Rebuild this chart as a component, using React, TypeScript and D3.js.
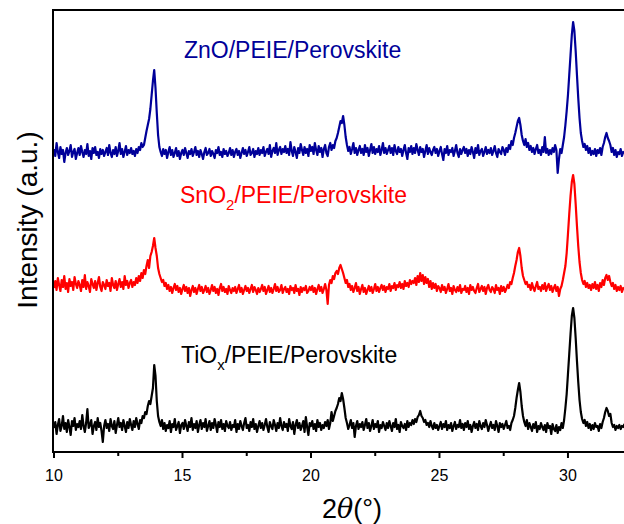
import React from "react";
import * as d3 from "d3";

const X_START = 10;
const X_STEP = 0.05;

const seriesNames = ["TiOx/PEIE/Perovskite", "SnO2/PEIE/Perovskite", "ZnO/PEIE/Perovskite"];
const seriesOffsets = [0, 138, 273];
const seriesColors = ["#000000", "#ff0000", "#000099"];

const tiox: number[] = [
  28, 34, 22, 31, 37, 25, 30, 40, 27, 33, 24, 36, 29, 21, 35, 30, 38, 26, 32, 29,
  35, 27, 41, 30, 24, 33, 47, 28, 31, 36, 22, 30, 34, 26, 38, 29, 33, 25, 14, 30,
  36, 28, 32, 25, 37, 30, 27, 35, 23, 31, 38, 29, 33, 26, 36, 30, 24, 34, 28, 37,
  31, 26, 35, 29, 38, 32, 27, 36, 33, 40, 38, 44, 42, 50, 55, 52, 60, 68, 91, 80,
  55, 40, 34, 30, 36, 27, 33, 25, 31, 28, 35, 24, 32, 29, 37, 26, 30, 34, 23, 31,
  33, 27, 36, 30, 25, 34, 29, 38, 26, 32, 28, 35, 24, 31, 36, 27, 33, 29, 37, 25,
  30, 35, 26, 33, 28, 37, 31, 24, 34, 29, 36, 27, 32, 25, 35, 30, 28, 34, 26, 31,
  29, 36, 24, 32, 27, 35, 30, 26, 33, 38, 28, 31, 25, 34, 29, 37, 27, 32, 24, 30,
  35, 28, 33, 26, 31, 37, 29, 24, 34, 30, 27, 36, 31, 25, 33, 28, 38, 30, 26, 34,
  29, 32, 25, 37, 30, 27, 34, 22, 31, 36, 28, 33, 26, 30, 35, 24, 39, 29, 21, 33,
  30, 35, 27, 32, 25, 36, 29, 33, 26, 31, 28, 34, 30, 36, 27, 33, 44, 35, 40, 45,
  48, 52, 58, 55, 63, 57, 48, 38, 33, 27, 31, 36, 28, 33, 19, 30, 35, 27, 32, 29,
  34, 26, 31, 37, 28, 33, 25, 30, 36, 27, 32, 29, 35, 24, 31, 28, 34, 30, 26, 33,
  28, 35, 30, 25, 33, 29, 37, 27, 31, 24, 34, 30, 28, 32, 26, 35, 29, 33, 31, 36,
  32, 37, 34, 39, 41, 45, 40, 38, 34, 36, 31, 33, 29, 35, 30, 27, 33, 28, 31, 26,
  30, 34, 27, 32, 29, 35, 26, 31, 28, 33, 25, 30, 34, 27, 31, 29, 36, 28, 32, 26,
  33, 29, 35, 27, 31, 24, 30, 34, 28, 32, 26, 35, 30, 27, 33, 29, 36, 31, 25, 30,
  34, 28, 31, 26, 35, 30, 24, 33, 29, 32, 27, 31, 35, 28, 30, 26, 33, 36, 40, 48,
  58, 66, 73, 64, 50, 40, 34, 30, 36, 27, 33, 29, 25, 32, 28, 34, 24, 30, 27, 33,
  29, 26, 31, 24, 33, 28, 30, 22, 32, 27, 25, 31, 23, 29, 26, 33, 28, 36, 48, 62,
  82, 102, 122, 140, 148, 138, 118, 95, 74, 56, 44, 37, 33, 36, 30, 34, 28, 32, 26, 31,
  27, 33, 29, 30, 25, 32, 28, 34, 38, 44, 48, 45, 40, 42, 33, 29, 31, 26, 30, 28,
  31, 27, 30, 29, 32,
];

const sno2: number[] = [
  30, 37, 28, 40, 33, 27, 38, 31, 42, 29, 35, 26, 39, 32, 36, 28, 41, 34, 30, 37,
  33, 27, 38, 31, 43, 29, 36, 32, 26, 39, 34, 30, 37, 28, 35, 41, 31, 27, 36, 33,
  29, 38, 32, 35, 27, 40, 33, 30, 37, 28, 34, 39, 31, 36, 29, 42, 33, 37, 30, 35,
  38, 31, 36, 33, 40, 35, 42, 37, 45, 40, 48, 44, 52, 58, 50, 62, 66, 72, 80, 70,
  62, 50, 44, 40, 36, 38, 32, 35, 29, 33, 27, 31, 25, 30, 34, 28, 32, 26, 30, 24,
  29, 33, 27, 31, 25, 30, 22, 28, 32, 26, 30, 24, 29, 33, 27, 31, 25, 28, 32, 26,
  30, 24, 28, 33, 27, 31, 25, 29, 23, 30, 34, 27, 31, 26, 29, 24, 32, 28, 25, 30,
  27, 31, 25, 29, 33, 26, 30, 24, 28, 32, 27, 30, 25, 29, 33, 26, 31, 28, 24, 30,
  26, 29, 33, 27, 31, 24, 28, 32, 26, 30, 25, 29, 34, 27, 31, 26, 28, 33, 25, 29,
  31, 26, 29, 24, 32, 28, 30, 25, 33, 27, 29, 23, 31, 26, 30, 28, 32, 25, 27, 31,
  28, 32, 26, 30, 24, 29, 33, 27, 31, 25, 29, 34, 28, 14, 33, 38, 35, 42, 39, 45,
  47, 44, 50, 53, 49, 45, 40, 35, 38, 31, 34, 28, 32, 26, 30, 35, 27, 31, 24, 29,
  33, 26, 30, 24, 28, 32, 27, 31, 25, 29, 34, 27, 31, 26, 30, 33, 28, 32, 26, 31,
  29, 34, 27, 32, 30, 35, 28, 33, 31, 36, 30, 34, 29, 37, 32, 35, 31, 38, 34, 37,
  35, 40, 33, 42, 36, 45, 37, 43, 34, 41, 35, 39, 31, 37, 29, 35, 30, 34, 27, 32,
  30, 26, 33, 28, 31, 25, 29, 34, 27, 30, 24, 32, 28, 26, 31, 27, 33, 25, 29, 28,
  32, 26, 30, 24, 33, 28, 31, 27, 25, 30, 34, 26, 29, 32, 27, 31, 24, 30, 33, 28,
  26, 31, 29, 25, 33, 28, 30, 24, 32, 27, 31, 26, 29, 33, 30, 36, 34, 40, 45, 52,
  58, 66, 70, 62, 50, 42, 38, 34, 36, 31, 33, 28, 35, 30, 27, 32, 36, 29, 31, 27,
  33, 29, 35, 27, 31, 34, 28, 32, 26, 30, 33, 27, 31, 22, 29, 32, 38, 45, 52, 65,
  84, 104, 122, 136, 143, 134, 114, 92, 72, 56, 45, 38, 34, 37, 31, 35, 30, 33, 28, 34,
  30, 36, 29, 33, 27, 35, 31, 38, 33, 40, 43, 38, 42, 36, 32, 35, 29, 33, 27, 31,
  28, 32, 26, 30, 29,
];

const zno: number[] = [
  34, 27, 40, 31, 25, 36, 29, 33, 21, 30, 35, 28, 32, 38, 26, 31, 34, 24, 30, 35,
  28, 37, 31, 26, 33, 29, 39, 27, 32, 24, 35, 30, 36, 28, 31, 25, 34, 29, 33, 27,
  31, 35, 28, 38, 30, 26, 33, 29, 36, 27, 32, 40, 29, 34, 26, 31, 37, 28, 33, 30,
  35, 29, 32, 27, 34, 30, 36, 33, 40, 36, 38, 45, 52, 58, 64, 74, 88, 102, 113, 95,
  70, 48, 36, 31, 27, 34, 29, 33, 25, 31, 36, 28, 33, 26, 30, 35, 27, 32, 24, 30,
  33, 28, 35, 30, 25, 32, 29, 34, 27, 31, 36, 28, 32, 26, 33, 29, 24, 31, 35, 28,
  30, 34, 27, 32, 29, 25, 33, 30, 36, 28, 31, 26, 34, 29, 32, 27, 30, 35, 28, 33,
  26, 31, 34, 28, 32, 25, 30, 35, 29, 33, 27, 31, 36, 28, 30, 34, 26, 32, 29, 35,
  28, 33, 30, 36, 27, 31, 34, 29, 38, 26, 32, 35, 30, 40, 28, 33, 36, 29, 34, 31,
  37, 30, 34, 28, 41, 32, 27, 36, 31, 25, 35, 30, 39, 33, 28, 36, 30, 34, 27, 38,
  32, 36, 29, 40, 33, 28, 37, 31, 35, 26, 34, 38, 30, 27, 36, 40, 33, 38, 35, 42,
  45, 50, 56, 62, 60, 67, 58, 46, 38, 32, 36, 29, 34, 40, 30, 35, 28, 33, 37, 30,
  34, 28, 38, 31, 35, 27, 33, 39, 30, 36, 29, 34, 31, 37, 28, 33, 40, 30, 35, 29,
  33, 37, 30, 35, 28, 38, 32, 29, 36, 31, 34, 27, 33, 38, 30, 24, 35, 31, 37, 29,
  35, 30, 39, 33, 28, 36, 31, 34, 26, 32, 38, 29, 35, 31, 28, 33, 36, 30, 34, 27,
  32, 36, 29, 23, 34, 30, 37, 28, 33, 31, 35, 27, 32, 38, 30, 26, 34, 29, 33, 36,
  30, 34, 27, 33, 29, 36, 31, 25, 35, 30, 38, 28, 32, 34, 27, 31, 36, 29, 33, 30,
  35, 28, 32, 37, 30, 26, 34, 31, 29, 36, 33, 28, 35, 31, 38, 34, 42, 38, 45, 50,
  56, 62, 65, 58, 48, 42, 38, 44, 36, 40, 33, 37, 31, 35, 29, 34, 38, 30, 33, 28,
  36, 31, 46, 30, 34, 28, 33, 29, 35, 31, 38, 33, 10, 24, 34, 30, 38, 46, 58, 72,
  88, 108, 128, 148, 161, 152, 132, 108, 85, 65, 50, 42, 36, 39, 33, 37, 30, 35, 28, 32,
  29, 34, 27, 33, 30, 35, 28, 36, 40, 46, 50, 45, 42, 38, 31, 35, 28, 33, 26, 31,
  29, 34, 27, 31, 30,
];

const seriesValues = [tiox, sno2, zno];
const xTicks = [10, 15, 20, 25, 30];
const xMinorTicks = [12.5, 17.5, 22.5, 27.5];

const W = 624;
const H = 524;
const left = 54;
const top = 10;
const bottom = 452;

export default function App() {
  const x = d3.scaleLinear().domain([10, 32.2]).range([left, 624.5]);
  const y = d3.scaleLinear().domain([0, 446]).range([456, 10]);

  const paths = seriesValues.map((vals, si) => {
    const pts: [number, number][] = vals.map((v, i) => [X_START + i * X_STEP, v + seriesOffsets[si]]);
    const line = d3
      .line<[number, number]>()
      .x((d) => x(d[0]))
      .y((d) => y(d[1]));
    return line(pts) || "";
  });

  const font = "Arial, 'Liberation Sans', sans-serif";

  return (
    <svg
      width={W}
      height={H}
      style={{ position: "absolute", left: 0, top: 0, background: "#fff" }}
      fontFamily={font}
    >
      <rect x={0} y={0} width={W} height={H} fill="#fff" />
      {paths.map((p, i) => (
        <path key={i} d={p} fill="none" stroke={seriesColors[i]} strokeWidth={2.2} strokeLinejoin="round" />
      ))}
      <line x1={left - 1} x2={W + 2} y1={top} y2={top} stroke="#000" strokeWidth={2} />
      <line x1={left - 1} x2={left - 1} y1={top - 1} y2={bottom + 1} stroke="#000" strokeWidth={2} />
      <line x1={left - 2} x2={W + 2} y1={bottom} y2={bottom} stroke="#000" strokeWidth={2} />
      {xTicks.map((t) => (
        <g key={t}>
          <line x1={x(t)} x2={x(t)} y1={bottom} y2={bottom + 6} stroke="#000" strokeWidth={2} />
          <text x={x(t)} y={481} textAnchor="middle" fontSize={16} fill="#000">
            {t}
          </text>
        </g>
      ))}
      {xMinorTicks.map((t) => (
        <line key={t} x1={x(t)} x2={x(t)} y1={bottom} y2={bottom + 4} stroke="#000" strokeWidth={2} />
      ))}
      <text x={352} y={518} textAnchor="middle" fontSize={27} fill="#000">
        <tspan>2</tspan>
        <tspan fontStyle="italic" fontFamily="'DejaVu Serif', serif">θ</tspan>
        <tspan>(°)</tspan>
      </text>
      <text
        transform={`translate(37, 220) rotate(-90)`}
        textAnchor="middle"
        fontSize={28}
        fill="#000"
      >
        Intensity (a.u.)
      </text>
      <text x={184} y={58} fontSize={23} fill={seriesColors[2]}>
        ZnO/PEIE/Perovskite
      </text>
      <text x={180} y={203} fontSize={23} fill={seriesColors[1]}>
        SnO
        <tspan fontSize={15} dy={7}>2</tspan>
        <tspan dy={-7}>/PEIE/Perovskite</tspan>
      </text>
      <text x={181} y={363} fontSize={23} fill={seriesColors[0]}>
        TiO
        <tspan fontSize={15} dy={7}>x</tspan>
        <tspan dy={-7}>/PEIE/Perovskite</tspan>
      </text>
    </svg>
  );
}
